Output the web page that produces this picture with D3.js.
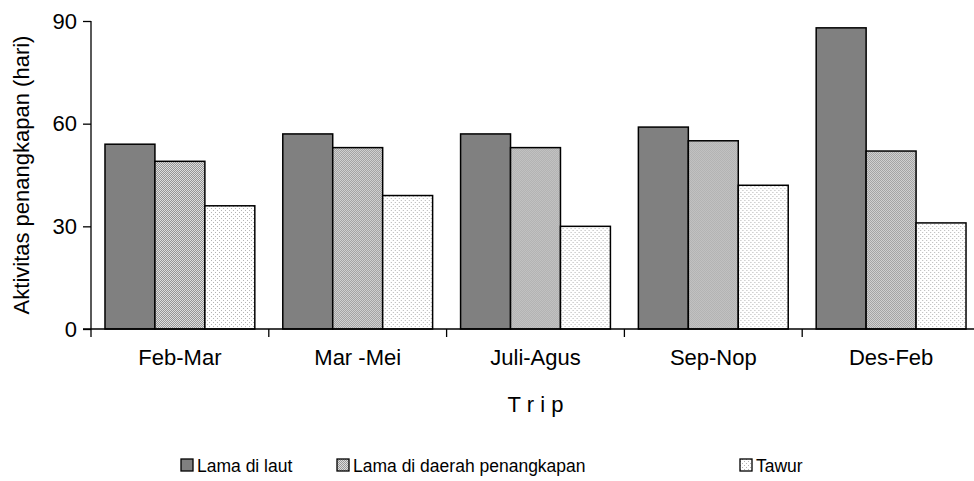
<!DOCTYPE html>
<html>
<head>
<meta charset="utf-8">
<script src="https://cdn.jsdelivr.net/npm/d3@7"></script>
<style>
  html, body { margin: 0; padding: 0; background: #fff; }
  svg { display: block; font-family: "Liberation Sans", Arial, sans-serif; }
</style>
</head>
<body>
<svg id="chart" width="974" height="481"></svg>
<script>
// Trip periods and days of fishing activity per series
const categories = ["Feb-Mar", "Mar -Mei", "Juli-Agus", "Sep-Nop", "Des-Feb"];
const seriesNames = ["Lama di laut", "Lama di daerah penangkapan", "Tawur"];
const lamaDiLaut = [54, 57, 57, 59, 88];
const lamaDiDaerah = [49, 53, 53, 55, 52];
const tawur = [36, 39, 30, 42, 31];
const yTicks = [0, 30, 60, 90];
const yLabel = "Aktivitas penangkapan (hari)";
const xLabel = "T r i p";

const seriesValues = [lamaDiLaut, lamaDiDaerah, tawur];

const svg = d3.select("#chart");
const defs = svg.append("defs");

// Fill patterns: solid grey, fine checker, sparse dots
const pChecker = defs.append("pattern").attr("id", "pat-checker")
  .attr("patternUnits", "userSpaceOnUse").attr("width", 2).attr("height", 2);
pChecker.append("rect").attr("width", 2).attr("height", 2).attr("fill", "#dedede");
pChecker.append("rect").attr("x", 0).attr("y", 0).attr("width", 1).attr("height", 1).attr("fill", "#969696");
pChecker.append("rect").attr("x", 1).attr("y", 1).attr("width", 1).attr("height", 1).attr("fill", "#969696");

const pDots = defs.append("pattern").attr("id", "pat-dots")
  .attr("patternUnits", "userSpaceOnUse").attr("width", 4).attr("height", 4);
pDots.append("rect").attr("width", 4).attr("height", 4).attr("fill", "#ffffff");
pDots.append("rect").attr("x", 0).attr("y", 0).attr("width", 1).attr("height", 1).attr("fill", "#b4b4b4");
pDots.append("rect").attr("x", 2).attr("y", 2).attr("width", 1).attr("height", 1).attr("fill", "#b4b4b4");

const fills = ["#808080", "url(#pat-checker)", "url(#pat-dots)"];

const plot = { left: 91, right: 980, top: 21, bottom: 329 };

const x0 = d3.scaleBand().domain(categories).range([plot.left, plot.right]).padding(0);
const x1 = d3.scaleBand().domain(seriesNames).range([0, x0.bandwidth()])
  .paddingInner(0).paddingOuter(0.28);
const y = d3.scaleLinear().domain([0, 90]).range([plot.bottom, plot.top]);

// Bars
const groups = svg.append("g").selectAll("g")
  .data(categories).join("g")
  .attr("transform", d => `translate(${x0(d)},0)`);

groups.selectAll("rect")
  .data((c, i) => seriesNames.map((s, j) => ({ s, j, v: seriesValues[j][i] })))
  .join("rect")
  .attr("x", d => x1(d.s))
  .attr("y", d => y(d.v))
  .attr("width", x1.bandwidth())
  .attr("height", d => y(0) - y(d.v))
  .attr("fill", d => fills[d.j])
  .attr("stroke", "#000")
  .attr("stroke-width", 1.5);

// Y axis
const yAxis = svg.append("g")
  .attr("transform", `translate(${plot.left},0)`)
  .call(d3.axisLeft(y).tickValues(yTicks).tickSize(8).tickPadding(6));
yAxis.select(".domain").attr("stroke", "#000").attr("stroke-width", 1.3)
  .attr("d", `M0,${plot.top}V${plot.bottom}`);
yAxis.selectAll(".tick line").attr("stroke", "#000").attr("stroke-width", 1.3);
yAxis.selectAll(".tick text").attr("font-size", 22).attr("fill", "#000")
  .attr("font-family", "Liberation Sans, Arial, sans-serif");

// X axis: labels centred in each band, ticks at band boundaries
const xAxis = svg.append("g")
  .attr("transform", `translate(0,${plot.bottom})`)
  .call(d3.axisBottom(x0).tickSize(0).tickPadding(20));
xAxis.select(".domain").remove();
xAxis.selectAll(".tick text").attr("font-size", 22).attr("fill", "#000")
  .attr("font-family", "Liberation Sans, Arial, sans-serif");

const bounds = categories.map(c => x0(c)).concat([x0.range()[1]]);
const xa = svg.append("g").attr("transform", `translate(0,${plot.bottom})`);
xa.append("line").attr("x1", plot.left - 8).attr("x2", 974)
  .attr("stroke", "#000").attr("stroke-width", 1.3);
xa.selectAll(".btick").data(bounds).join("line")
  .attr("x1", d => d).attr("x2", d => d).attr("y1", 0).attr("y2", 8)
  .attr("stroke", "#000").attr("stroke-width", 1.3);

// Axis titles
svg.append("text")
  .attr("transform", `translate(29,${(plot.top + plot.bottom) / 2}) rotate(-90)`)
  .attr("text-anchor", "middle")
  .attr("font-size", 22)
  .text(yLabel);

svg.append("text")
  .attr("x", (plot.left + plot.right) / 2)
  .attr("y", 412)
  .attr("text-anchor", "middle")
  .attr("font-size", 22)
  .text(xLabel);

// Legend
const legendX = [181, 337, 740];
const legend = svg.append("g").selectAll("g")
  .data(seriesNames).join("g")
  .attr("transform", (d, i) => `translate(${legendX[i]},465)`);
legend.append("rect")
  .attr("x", 0).attr("y", -6).attr("width", 12).attr("height", 12)
  .attr("fill", (d, i) => fills[i]).attr("stroke", "#000").attr("stroke-width", 1.3);
legend.append("text")
  .attr("x", 16).attr("y", 7)
  .attr("font-size", 17.5)
  .text(d => d);
</script>
</body>
</html>
